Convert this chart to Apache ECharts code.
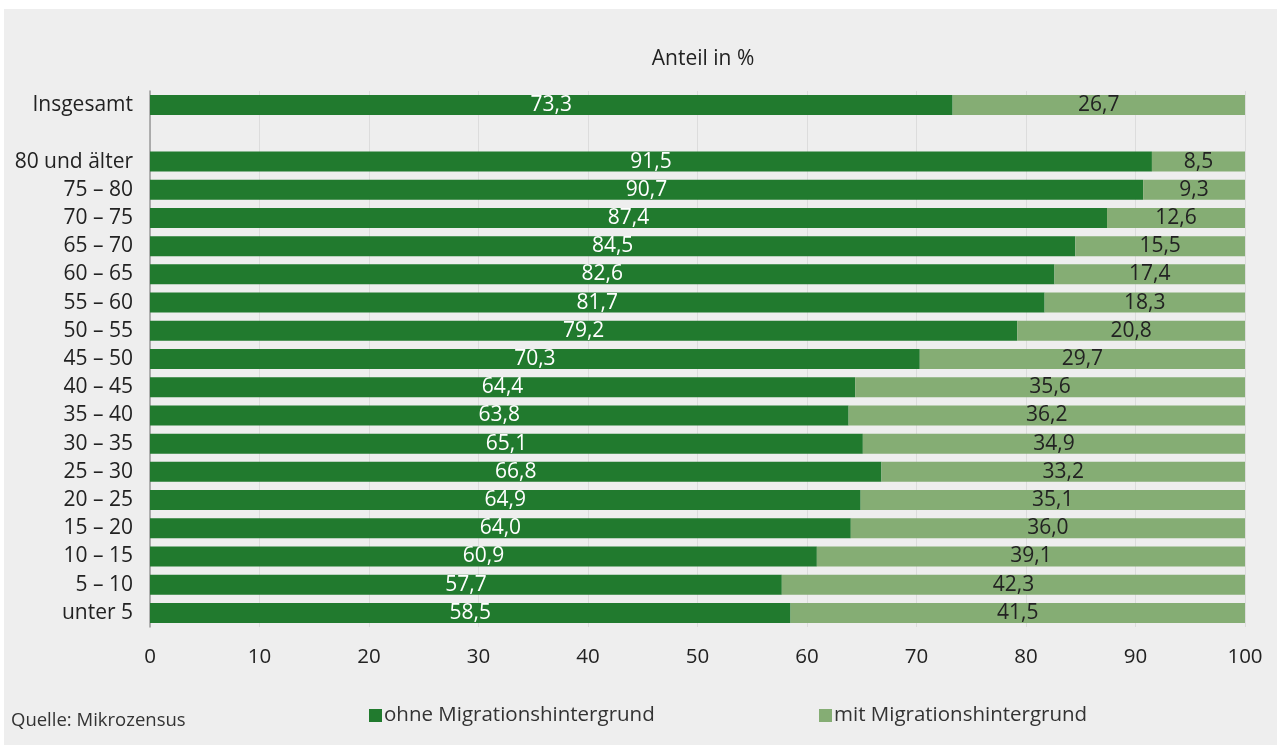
<!DOCTYPE html>
<html lang="de">
<head>
<meta charset="utf-8">
<title>Anteil in %</title>
<script src="https://cdn.jsdelivr.net/npm/echarts@6/dist/echarts.min.js"></script>
<style>
  html, body { margin: 0; padding: 0; background: #ffffff; }
  #chart { width: 1277px; height: 745px; }
</style>
</head>
<body>
<div id="chart"></div>
<script>
// Altersgruppen von oben nach unten; die leere Kategorie trennt "Insgesamt" ab
const categories = ['Insgesamt', '', '80 und älter', '75 – 80', '70 – 75', '65 – 70', '60 – 65',
  '55 – 60', '50 – 55', '45 – 50', '40 – 45', '35 – 40', '30 – 35', '25 – 30', '20 – 25',
  '15 – 20', '10 – 15', '5 – 10', 'unter 5'];

const ohneMigration = [73.3, null, 91.5, 90.7, 87.4, 84.5, 82.6, 81.7, 79.2, 70.3, 64.4,
  63.8, 65.1, 66.8, 64.9, 64.0, 60.9, 57.7, 58.5];

const mitMigration = [26.7, null, 8.5, 9.3, 12.6, 15.5, 17.4, 18.3, 20.8, 29.7, 35.6,
  36.2, 34.9, 33.2, 35.1, 36.0, 39.1, 42.3, 41.5];

const seriesNames = ['ohne Migrationshintergrund', 'mit Migrationshintergrund'];
const xTicks = [0, 10, 20, 30, 40, 50, 60, 70, 80, 90, 100];

const FONT = '"Open Sans", "Noto Sans", sans-serif';
const DARK = '#217a2e';
const LIGHT = '#85ad74';
const TEXT = '#222222';

const fmt = v => v.toFixed(1).replace('.', ',');

const chart = echarts.init(document.getElementById('chart'), null, { renderer: 'canvas' });

chart.setOption({
  backgroundColor: '#ffffff',
  animation: false,
  textStyle: { fontFamily: FONT },
  graphic: [
    {
      type: 'rect',
      z: -10,
      shape: { x: 4, y: 9, width: 1273, height: 736 },
      style: { fill: '#eeeeee' }
    },
    {
      type: 'text',
      left: 11,
      top: 711,
      style: { text: 'Quelle: Mikrozensus', fill: '#333333', font: '18.5px ' + FONT }
    }
  ],
  title: {
    text: 'Anteil in %',
    left: 698,
    textAlign: 'center',
    top: 44,
    textStyle: { fontFamily: FONT, fontSize: 21, fontWeight: 'normal', color: TEXT }
  },
  legend: [
    {
      data: [seriesNames[0]],
      left: 364,
      top: 700,
      icon: 'rect',
      itemWidth: 13,
      itemHeight: 13,
      itemGap: 6,
      textStyle: { fontFamily: FONT, fontSize: 20.5, color: '#333333', padding: [0, 0, 0, -3] }
    },
    {
      data: [seriesNames[1]],
      left: 814,
      top: 700,
      icon: 'rect',
      itemWidth: 13,
      itemHeight: 13,
      textStyle: { fontFamily: FONT, fontSize: 20.5, color: '#333333', padding: [0, 0, 0, -3] }
    }
  ],
  grid: { left: 150, right: 32, top: 91, bottom: 118 },
  xAxis: {
    type: 'value',
    min: 0,
    max: 100,
    interval: 10,
    axisLine: { show: false },
    axisTick: { show: false },
    axisLabel: {
      fontFamily: FONT, fontSize: 20.5, color: TEXT, margin: 20,
      formatter: v => (xTicks.indexOf(v) >= 0 ? String(v) : '')
    },
    splitLine: { show: true, lineStyle: { color: '#dcdcdc', width: 1 } }
  },
  yAxis: {
    type: 'category',
    inverse: true,
    data: categories,
    axisLine: { show: true, lineStyle: { color: '#9a9a9a', width: 1.5 } },
    axisTick: { show: false },
    axisLabel: { fontFamily: FONT, fontSize: 21, color: TEXT, margin: 17 }
  },
  series: [
    {
      name: seriesNames[0],
      type: 'bar',
      stack: 'anteil',
      data: ohneMigration,
      barWidth: 20,
      itemStyle: { color: DARK },
      label: {
        show: true,
        position: 'inside',
        fontFamily: FONT,
        fontSize: 21,
        color: '#ffffff',
        formatter: p => fmt(p.value)
      }
    },
    {
      name: seriesNames[1],
      type: 'bar',
      stack: 'anteil',
      data: mitMigration,
      barWidth: 20,
      itemStyle: { color: LIGHT },
      label: {
        show: true,
        position: 'inside',
        fontFamily: FONT,
        fontSize: 21,
        color: TEXT,
        formatter: p => fmt(p.value)
      }
    }
  ]
});
</script>
</body>
</html>
